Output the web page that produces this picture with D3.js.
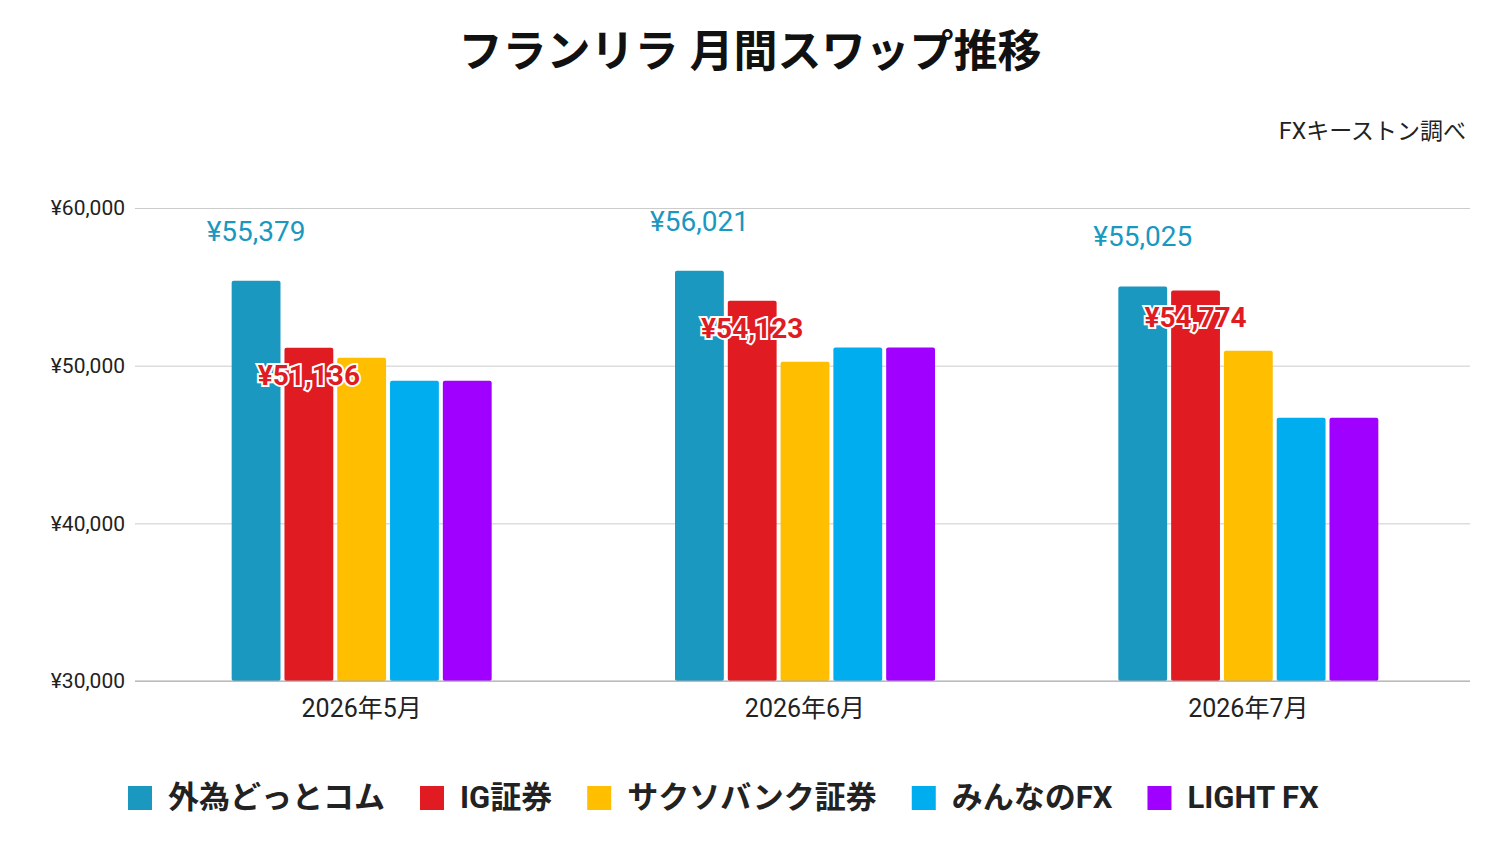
<!DOCTYPE html>
<html lang="ja">
<head>
<meta charset="utf-8">
<script src="https://cdn.jsdelivr.net/npm/d3@7"></script>
<style>
body{margin:0;background:#fff;font-family:Roboto,"Noto Sans CJK JP",sans-serif;}
</style>
</head>
<body>
<svg id="chart" width="1498" height="858"></svg>
<script>
const months = ["2026年5月", "2026年6月", "2026年7月"];
const brokers = ["外為どっとコム", "IG証券", "サクソバンク証券", "みんなのFX", "LIGHT FX"];
const colors = ["#1a98c0", "#e01c22", "#ffbe00", "#00adee", "#a000ff"];
const values = [
  [55379, 51136, 50500, 49050, 49050],
  [56021, 54123, 50250, 51150, 51150],
  [55025, 54774, 50950, 46700, 46700]
];
const yTicks = [30000, 40000, 50000, 60000];

const svg = d3.select("#chart");
const mLeft = 135, mRight = 1470, mTop = 208, mBottom = 681;

const x = d3.scaleBand().domain(months).range([mLeft + 5, mRight]).padding(0);
const xi = d3.scaleBand().domain(d3.range(brokers.length)).range([0, 260]).paddingInner(0.075);
const y = d3.scaleLinear().domain([30000, 60000]).range([mBottom, mTop]);
const fmt = v => "¥" + d3.format(",")(v);

svg.append("text").attr("x", 750).attr("y", 67).attr("text-anchor", "middle")
  .attr("font-size", 44).attr("font-weight", "bold").attr("fill", "#111")
  .text("フランリラ 月間スワップ推移");
svg.append("text").attr("x", 1466).attr("y", 139).attr("text-anchor", "end")
  .attr("font-size", 23).attr("fill", "#222").text("FXキーストン調べ");

const yAxis = svg.append("g").attr("transform", `translate(${mLeft},0)`)
  .call(d3.axisLeft(y).tickValues(yTicks).tickSize(-(mRight - mLeft)).tickFormat(fmt));
yAxis.select(".domain").remove();
yAxis.selectAll("line").attr("stroke", "#ccc");
yAxis.selectAll("text").attr("x", -10).attr("font-size", 21).attr("fill", "#222")
  .attr("font-family", "Roboto,sans-serif");

const g = svg.selectAll(".grp").data(values).join("g")
  .attr("transform", (d, i) => `translate(${x(months[i]) + (x.bandwidth() - 260) / 2},0)`);
g.selectAll("rect").data(d => d).join("rect")
  .attr("x", (d, j) => xi(j)).attr("width", xi.bandwidth())
  .attr("y", d => y(d)).attr("height", d => y(30000) - y(d))
  .attr("rx", 2).attr("fill", (d, j) => colors[j]);

g.append("text").attr("x", xi(0) + xi.bandwidth() / 2).attr("y", d => y(d[0]) - 40)
  .attr("text-anchor", "middle").attr("font-size", 28).attr("fill", colors[0])
  .text(d => fmt(d[0]));
g.append("text").attr("x", xi(1) + xi.bandwidth() / 2).attr("y", d => y(d[1]) + 37)
  .attr("text-anchor", "middle").attr("font-size", 28).attr("fill", colors[1])
  .attr("stroke", "#fff").attr("stroke-width", 4).attr("paint-order", "stroke")
  .attr("font-weight", "bold").text(d => fmt(d[1]));

svg.append("line").attr("x1", mLeft).attr("x2", mRight).attr("y1", mBottom).attr("y2", mBottom)
  .attr("stroke", "#aaa");
svg.selectAll(".xl").data(months).join("text")
  .attr("x", d => x(d) + x.bandwidth() / 2).attr("y", 717).attr("text-anchor", "middle")
  .attr("font-size", 25).attr("fill", "#222").text(d => d);

// legend
const leg = svg.append("g").attr("font-size", 31).attr("font-weight", "bold");
let lx = 128;
brokers.forEach((b, i) => {
  leg.append("rect").attr("x", lx).attr("y", 786).attr("width", 24).attr("height", 24).attr("fill", colors[i]);
  const t = leg.append("text").attr("x", lx + 40).attr("y", 808).attr("fill", "#222").text(b);
  lx += 40 + t.node().getComputedTextLength() + 35;
});
</script>
</body>
</html>
